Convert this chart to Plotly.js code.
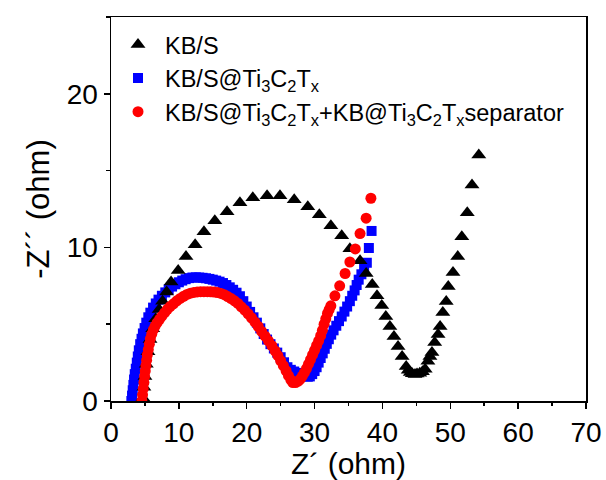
<!DOCTYPE html>
<html>
<head>
<meta charset="utf-8">
<script src="https://cdn.plot.ly/plotly-3.0.1.min.js"></script>
<style>html,body{margin:0;padding:0;background:#fff;}#chart{width:606px;height:480px;}</style>
</head>
<body>
<div id="chart"></div>
<script>
// KB/S (black triangles)
const kbsX = [4.7,4.85,5.0,5.2,5.45,5.75,6.15,6.6,7.1,7.6,8.2,8.85,9.9,11.05,12.4,13.7,15.3,17.1,19.0,20.9,23.0,24.9,27.0,29.0,30.7,32.4,34.0,35.2,36.7,37.6,38.5,39.2,39.9,40.5,41.1,41.7,42.3,42.9,43.5,43.8,44.1,44.4,44.8,45.1,45.5,45.9,46.3,46.7,47.0,47.3,47.7,48.2,48.5,48.9,49.4,49.7,50.4,51.1,51.7,52.5,53.2,54.2];
const kbsY = [0.2,0.9,1.6,2.4,3.2,4.0,4.7,5.35,5.95,6.5,7.1,7.75,8.5,9.4,10.18,11.02,11.73,12.32,12.9,13.23,13.36,13.36,13.1,12.64,12.12,11.41,10.76,9.92,9.13,8.3,7.58,6.86,6.21,5.5,4.85,4.2,3.55,2.9,2.25,2.0,1.86,1.78,1.73,1.75,1.8,1.9,2.06,2.58,2.9,3.16,3.81,4.33,4.85,5.76,6.47,7.45,8.36,9.4,10.69,12.25,14.07,16.02];

// KB/S@Ti3C2Tx (blue squares)
const tiX = [3.0,3.1,3.2,3.3,3.4,3.5,3.65,3.8,3.95,4.1,4.3,4.5,4.7,4.95,5.2,5.5,5.8,6.2,6.6,7.0,7.5,8.0,8.5,9.0,9.5,10.0,10.5,11.0,11.5,12.0,12.5,13.0,13.5,14.0,14.5,15.0,15.5,16.0,16.5,17.0,17.5,18.0,18.5,19.0,19.5,20.0,20.5,21.0,21.5,22.0,22.5,23.0,23.5,24.0,24.5,25.0,25.5,26.0,26.5,27.0,27.5,28.0,28.5,29.0,29.3,29.65,30.0,30.3,30.6,30.9,31.2,31.5,31.8,32.1,32.45,32.8,33.2,33.6,34.0,34.4,34.8,35.2,35.55,35.9,36.2,36.5,36.9,37.3,37.7,38.0,38.4];
const tiY = [0.0,0.35,0.7,1.05,1.4,1.75,2.1,2.5,2.9,3.3,3.7,4.05,4.4,4.75,5.1,5.45,5.75,6.08,6.35,6.6,6.85,7.07,7.27,7.45,7.6,7.73,7.84,7.93,8.0,8.04,8.05,8.04,8.02,7.99,7.95,7.9,7.84,7.77,7.68,7.55,7.4,7.24,7.05,6.82,6.5,6.15,5.8,5.45,5.1,4.73,4.36,4.0,3.7,3.42,3.15,2.85,2.52,2.2,2.03,1.92,1.83,1.72,1.63,1.58,1.6,1.75,1.95,2.2,2.5,2.8,3.1,3.4,3.72,4.02,4.32,4.6,4.9,5.2,5.5,5.82,6.15,6.5,6.85,7.2,7.55,7.9,8.25,8.6,9.0,9.96,11.07];

// KB/S@Ti3C2Tx+KB@Ti3C2Tx separator (red circles)
const sepX = [4.55,4.65,4.75,4.85,4.95,5.05,5.15,5.25,5.35,5.5,5.65,5.8,6.0,6.25,6.5,6.8,7.15,7.5,7.9,8.3,8.7,9.2,9.7,10.2,10.7,11.2,11.7,12.2,12.7,13.2,13.7,14.2,14.7,15.2,15.7,16.2,16.7,17.2,17.7,18.2,18.7,19.2,19.7,20.2,20.7,21.2,21.7,22.2,22.7,23.2,23.7,24.2,24.6,25.0,25.4,25.8,26.15,26.5,26.8,27.2,27.6,27.9,28.2,28.5,28.8,29.1,29.4,29.7,30.0,30.3,30.6,30.9,31.15,31.4,31.65,31.9,32.15,32.4,33.0,33.7,34.5,35.2,36.0,36.7,37.6,38.3];
const sepY = [0.0,0.4,0.8,1.2,1.6,1.95,2.3,2.65,3.0,3.35,3.7,4.05,4.35,4.65,4.88,5.1,5.32,5.52,5.75,5.97,6.15,6.33,6.52,6.68,6.82,6.94,7.02,7.07,7.1,7.12,7.12,7.12,7.11,7.09,7.06,7.0,6.92,6.8,6.67,6.52,6.35,6.13,5.92,5.68,5.42,5.14,4.85,4.53,4.22,3.92,3.6,3.25,2.95,2.62,2.3,1.97,1.65,1.38,1.2,1.2,1.3,1.42,1.62,1.85,2.1,2.4,2.7,3.0,3.3,3.62,3.92,4.25,4.6,5.0,5.35,5.7,5.95,6.2,6.85,7.5,8.3,9.05,9.9,10.9,11.9,13.2];

const names = [
  "KB/S",
  "KB/S@Ti<sub>3</sub>C<sub>2</sub>T<sub>x</sub>",
  "KB/S@Ti<sub>3</sub>C<sub>2</sub>T<sub>x</sub>+KB@Ti<sub>3</sub>C<sub>2</sub>T<sub>x</sub>separator"
];
const xTickVals = [0,10,20,30,40,50,60,70];
const yTickVals = [0,10,20];

const FONT = "Liberation Sans, Arial, Helvetica, sans-serif";

const traces = [
  {x: tiX, y: tiY, name: names[1], legendrank: 2, type: "scatter", mode: "markers",
   marker: {symbol: "square", size: 10, color: "#0000FF", line: {width: 0}}},
  {x: kbsX, y: kbsY, name: names[0], legendrank: 1, type: "scatter", mode: "markers",
   marker: {symbol: "triangle-up", size: 13, color: "#000000", line: {width: 0}}},
  {x: sepX, y: sepY, name: names[2], legendrank: 3, type: "scatter", mode: "markers",
   marker: {symbol: "circle", size: 11, color: "#FF0000", line: {width: 0}}}
];

const axisCommon = {
  showgrid: false, zeroline: false, showline: true, linecolor: "#000", linewidth: 1.5,
  mirror: true, ticks: "outside", ticklen: 6, tickwidth: 1.5, tickcolor: "#000",
  tickfont: {family: FONT, size: 28, color: "#000"}
};

const layout = {
  width: 606, height: 480,
  margin: {l: 111, r: 20, t: 17, b: 79},
  paper_bgcolor: "#fff", plot_bgcolor: "#fff",
  font: {family: FONT, color: "#000"},
  showlegend: true,
  legend: {x: 0.0, y: 0.985, xanchor: "left", yanchor: "top", bgcolor: "rgba(0,0,0,0)",
           font: {family: FONT, size: 23.5, color: "#000"}, itemwidth: 44, tracegroupgap: 0,
           traceorder: "normal"},
  xaxis: Object.assign({}, axisCommon, {
    range: [0, 70], tickvals: xTickVals, ticktext: xTickVals.map(String),
    minor: {dtick: 5, ticks: "outside", ticklen: 3.5, tickwidth: 1.5, tickcolor: "#000"},
    title: {text: "Z\u00b4 (ohm)", font: {family: FONT, size: 30, color: "#000"}, standoff: 6}
  }),
  yaxis: Object.assign({}, axisCommon, {
    range: [0, 25], tickvals: yTickVals, ticktext: yTickVals.map(String),
    minor: {dtick: 5, ticks: "outside", ticklen: 3.5, tickwidth: 1.5, tickcolor: "#000"},
    title: {text: "-Z\u00b4\u00b4 (ohm)", font: {family: FONT, size: 31, color: "#000"}, standoff: 8}
  })
};

Plotly.newPlot("chart", traces, layout, {displayModeBar: false, staticPlot: true});
</script>
</body>
</html>
